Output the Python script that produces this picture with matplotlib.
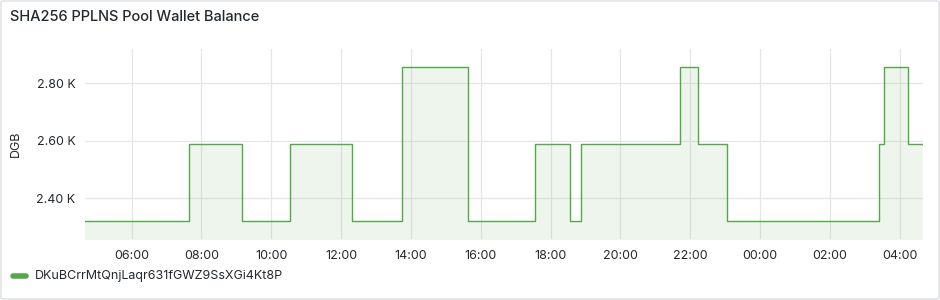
import pandas as pd
import matplotlib.pyplot as plt
import matplotlib.dates as mdates
from matplotlib.patches import FancyBboxPatch
from matplotlib.ticker import FuncFormatter

plt.rcParams['font.family'] = ['Inter', 'DejaVu Sans']

# step changes of the wallet balance (DGB)
times = ["2024-01-01 04:40", "2024-01-01 07:38", "2024-01-01 09:09", "2024-01-01 10:33",
         "2024-01-01 12:19", "2024-01-01 13:44", "2024-01-01 15:38", "2024-01-01 17:34",
         "2024-01-01 18:34", "2024-01-01 18:53", "2024-01-01 21:43", "2024-01-01 22:13",
         "2024-01-01 23:03", "2024-01-02 03:24", "2024-01-02 03:33", "2024-01-02 04:14",
         "2024-01-02 04:40"]
balance = [2319, 2588, 2319, 2588,
           2319, 2857, 2319, 2588,
           2319, 2588, 2857, 2588,
           2319, 2588, 2857, 2588,
           2588]
series_name = "DKuBCrrMtQnjLaqr631fGWZ9SsXGi4Kt8P"

t = pd.to_datetime(times)
green = "#56A64B"
text_col = "#24292E"
grid_col = "#E6E6E6"

fig = plt.figure(figsize=(9.4, 3.0), dpi=100)
ax = fig.add_axes([85 / 940, (300 - 238.7) / 300, (923 - 85) / 940, (238.7 - 49) / 300])

ax.plot(t, balance, drawstyle="steps-post", color=green, lw=1)
ax.fill_between(t, balance, 2000, step="post", color=green, alpha=0.1, lw=0)

ax.set_xlim(t[0], t[-1])
ax.set_ylim(2258.4, 2920)
ax.set_yticks([2400, 2600, 2800])
ax.yaxis.set_major_formatter(FuncFormatter(lambda v, p: "%.2f K" % (v / 1000)))
ax.xaxis.set_major_locator(mdates.HourLocator(byhour=range(0, 24, 2)))
ax.xaxis.set_major_formatter(mdates.DateFormatter("%H:%M"))

ax.grid(True, color=grid_col, lw=0.9)
ax.set_axisbelow(True)
for s in ax.spines.values():
    s.set_visible(False)
ax.tick_params(length=0, labelsize=9, colors=text_col, pad=7)
ax.tick_params(axis="x", pad=8)
ax.set_ylabel("DGB", fontsize=9, color=text_col)
ax.yaxis.set_label_coords(-63 / 838, 0.5)

fig.text(10 / 940, 1 - 17 / 300, "SHA256 PPLNS Pool Wallet Balance", fontsize=10.5,
         weight="medium", color=text_col, va="center", ha="left")

# legend
fig.add_artist(plt.Line2D([13 / 940, 26 / 940], [1 - 276 / 300] * 2, color=green, lw=4,
                          solid_capstyle="round"))
fig.text(35 / 940, 1 - 276 / 300, series_name, fontsize=9, color=text_col,
         va="center", ha="left")

# panel border
fig.add_artist(FancyBboxPatch((1 / 940, 1 / 300), 938 / 940, 298 / 300,
                              boxstyle="round,pad=0,rounding_size=0.004",
                              transform=fig.transFigure, fill=False,
                              edgecolor="#DCDEE0", lw=1))

plt.savefig("out.png", dpi=100)
